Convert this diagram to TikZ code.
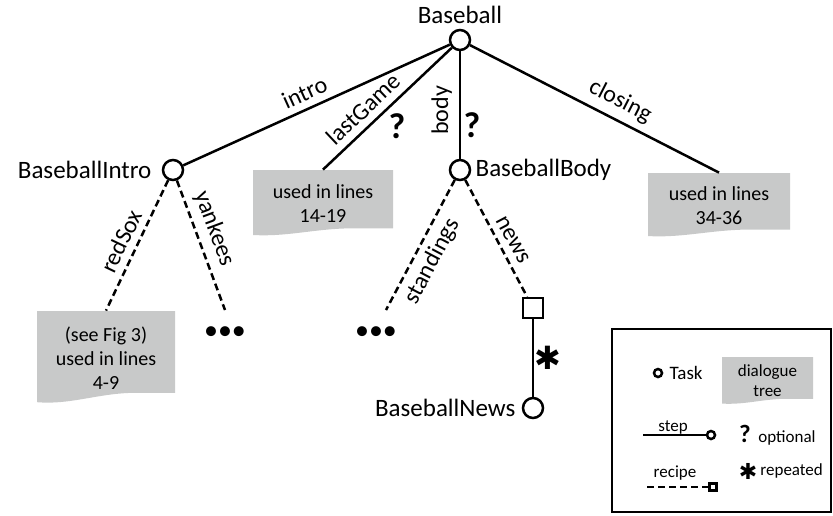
\documentclass[tikz,border=0pt]{standalone}
\usepackage{fontspec}
\setmainfont{Carlito}
\newfontfamily\symfont{DejaVu Sans}
\usetikzlibrary{positioning,calc}
\definecolor{docgray}{RGB}{200,201,201}

\begin{document}
\begin{tikzpicture}[x=0.5pt, y=-0.5pt,
		task/.style={circle, draw, line width=1.25pt, minimum size=10pt, inner sep=0pt, fill=white},
		recbox/.style={rectangle, draw, line width=1.25pt, minimum size=10pt, inner sep=0pt, fill=white},
		lab/.style={font=\fontsize{12.5}{15}\selectfont, inner sep=0pt},
		elab/.style={font=\fontsize{12}{14}\selectfont, sloped},
		leglab/.style={font=\fontsize{8.5}{10}\selectfont, inner sep=0pt},
		stepline/.style={line width=1.25pt},
		recline/.style={line width=1.25pt, dash pattern=on 3.5pt off 2pt},
		qmark/.style={font=\fontsize{18}{20}\selectfont\bfseries, inner sep=0pt},
		starmark/.style={font=\fontsize{16}{18}\selectfont\symfont, inner sep=0pt},
		dots/.style={font=\fontsize{14}{14}\selectfont, inner sep=0pt},
		doc/.style={rectangle, inner sep=0pt, align=center, font=\fontsize{10}{12}\selectfont,
			path picture={
				\fill[docgray] let \p1=(path picture bounding box.south west), \p2=(path picture bounding box.north east) in
				(\x1,\y2) -- (\x2,\y2) -- (\x2,{\y1+0.13*(\y2-\y1)})
				-- ({\x1+0.72*(\x2-\x1)},{\y1+0.13*(\y2-\y1)})
				.. controls ({\x1+0.45*(\x2-\x1)},{\y1+0.13*(\y2-\y1)}) and ({\x1+0.25*(\x2-\x1)},{\y1}) .. (\x1,{\y1+0.03*(\y2-\y1)}) -- cycle;
			}}
		]
		\useasboundingbox (0,0) rectangle (833,515);
		% tasks
		\node[task] (root) at (460,40) {};
		\node[lab, above=2.5pt of root] (rootLab) {Baseball};
		\node[task] (intro) at (173,170) {};
		\node[lab, left=5pt of intro] (introLab) {BaseballIntro};
		\node[task] (body) at (460,170) {};
		\node[lab, right=2pt of body] (bodyLab) {BaseballBody};
		\node[recbox] (newsRec) at (533,308) {};
		\node[task] (news) at (533,408) {};
		\node[lab, left=3pt of news] (newsLab) {BaseballNews};
		% dialogue trees
		\node[doc, minimum width=70pt, minimum height=33.5pt] (lastDoc) at (323,203.5) {used in lines\\14-19};
		\node[doc, minimum width=71pt, minimum height=32.5pt] (closeDoc) at (719,205.5) {used in lines\\34-36};
		\node[doc, minimum width=69pt, minimum height=47pt] (redDoc) at (106,358) {(see Fig 3)\\used in lines\\4-9};
		\coordinate (yankeesEnd) at (225,310);
		\node[dots] (yankeesDots) at (225,333) {•••};
		\coordinate (standingsEnd) at (386,310);
		\node[dots] (standingsDots) at (376,333) {•••};
		% steps
		\draw[stepline] (root) -- node[elab, above, pos=0.52] (introE) {intro} (intro);
		\draw[stepline] (root) -- node[elab, above, pos=0.60] (lastE) {lastGame} (lastDoc.north);
		\draw[stepline] (body) -- node[elab, above, pos=0.45] (bodyE) {body} (root);
		\draw[stepline] (root) -- node[elab, above, pos=0.57] (closeE) {closing} (closeDoc.north);
		\draw[stepline] (newsRec) -- (news);
		% recipes
		\draw[recline] (intro) -- node[elab, above, pos=0.52] (redE) {redSox} (redDoc.north);
		\draw[recline] (intro) -- node[elab, above, pos=0.42] (yankeesE) {yankees} (yankeesEnd);
		\draw[recline] (body) -- node[elab, below, pos=0.56] (standingsE) {standings} (standingsEnd);
		\draw[recline] (body) -- node[elab, above, pos=0.57] (newsE) {news} (newsRec);
		\node[qmark] (lastQ) at (397,126) {?};
		\node[qmark] (bodyQ) at (472,125) {?};
		\node[starmark] (newsStar) at (548,358) {✱};
		% legend
		\node[draw, line width=0.6pt, minimum width=109.5pt, minimum height=91.5pt, inner sep=0pt] (legend) at (721.5,420.5) {};
		\node[task, minimum size=4pt] (legTask) at (658,373) {};
		\node[leglab, font=\fontsize{9.5}{11}\selectfont, right=3pt of legTask] (legTaskLab) {Task};
		\node[doc, minimum width=45.5pt, minimum height=24pt, font=\fontsize{8.5}{10}\selectfont] (legDoc) at (767.5,381) {dialogue\\tree};
		\coordinate (legStepA) at (643,435);
		\node[task, minimum size=4pt] (legStepO) at (711,435) {};
		\draw[stepline] (legStepA) -- (legStepO);
		\node[leglab, anchor=base] (legStepLab) at (673,431) {step};
		\node[qmark, font=\fontsize{12.5}{14}\selectfont\bfseries, anchor=base] (legQ) at (745,442) {?};
		\node[leglab, anchor=base west] (legOpt) at (758,442) {optional};
		\coordinate (legRecA) at (647,487);
		\node[recbox, minimum size=3.5pt] (legRecS) at (713,487) {};
		\draw[recline] (legRecA) -- (legRecS);
		\node[leglab, anchor=base] (legRecLab) at (675,477) {recipe};
		\node[starmark, font=\fontsize{11}{12}\selectfont\symfont] (legStar) at (748,471) {✱};
		\node[leglab, anchor=base west] (legRep) at (760,475) {repeated};
	\end{tikzpicture}
\end{document}
